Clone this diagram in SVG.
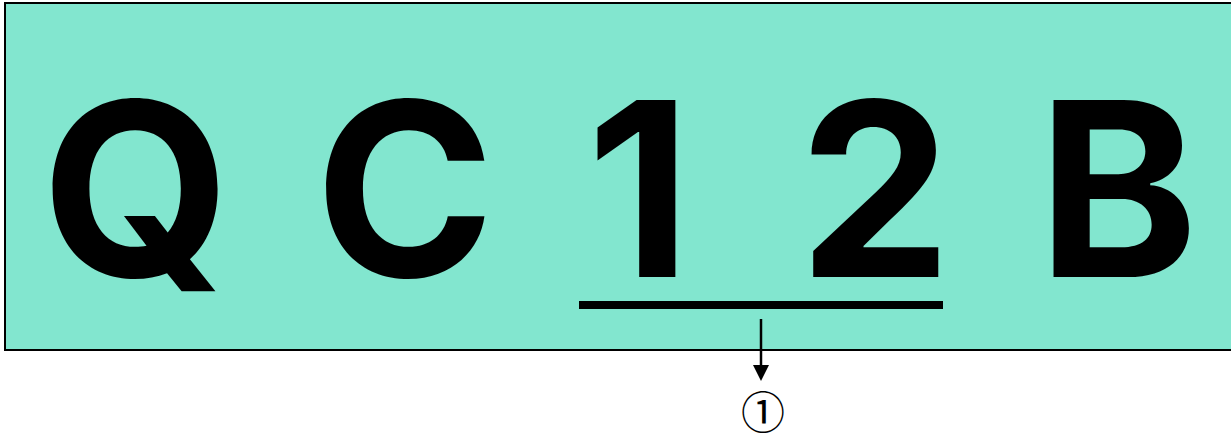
<svg xmlns="http://www.w3.org/2000/svg" width="1231" height="440" viewBox="0 0 1231 440">
  <defs>
    <style>
      .big { font-family: Inter, "Liberation Sans", Arial, sans-serif; font-weight: 700; font-size: 243px; fill: #000; text-anchor: middle; }
      .lbl { font-family: "Noto Sans CJK JP", "DejaVu Sans", sans-serif; font-size: 44px; fill: #000; text-anchor: middle; }
    </style>
  </defs>
  <g id="panel">
    <rect x="5" y="3" width="1240" height="347" fill="#82E6CF" stroke="#000" stroke-width="2"/>
  </g>
  <g id="code">
    <text class="big" x="136" y="277">Q</text>
    <text class="big" x="405" y="277">C</text>
    <text class="big" x="639" y="277">1</text>
    <text class="big" x="875" y="277">2</text>
    <text class="big" x="1118" y="277">B</text>
  </g>
  <g id="connectors">
    <rect x="579" y="301" width="364" height="8" fill="#000"/>
    <line x1="761" y1="319" x2="761" y2="366" stroke="#000" stroke-width="2.5"/>
    <path d="M753,365 L769,365 L761,381 Z" fill="#000"/>
  </g>
  <g id="label1">
    <text class="lbl" x="763" y="429">①</text>
  </g>
</svg>
